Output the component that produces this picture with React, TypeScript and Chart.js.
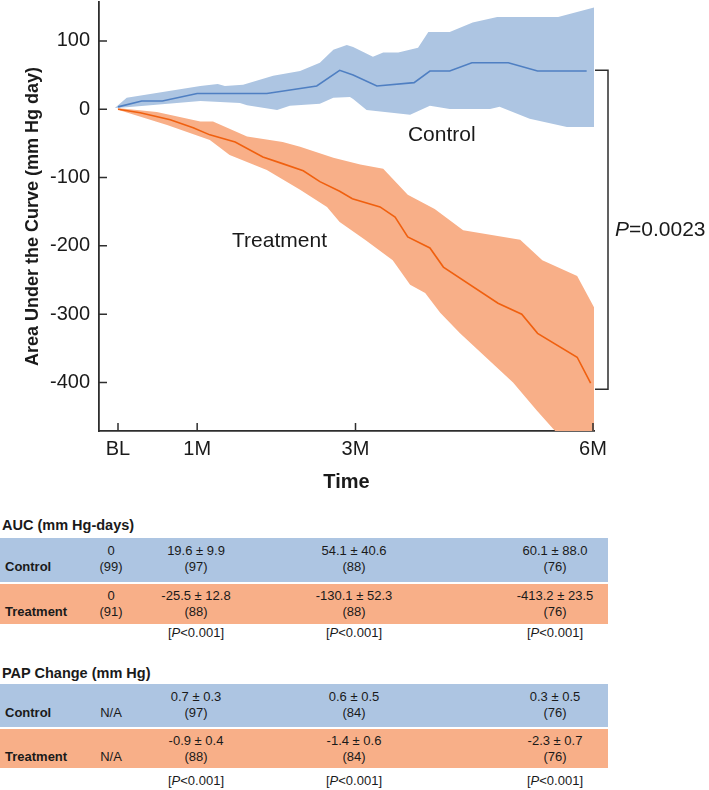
import React, { useEffect, useRef } from 'react';
import { Chart, registerables } from 'chart.js';

Chart.register(...registerables);

const FONT = "'Liberation Sans', Arial, Helvetica, sans-serif";
const INK = '#1a1a1a';
const AXIS = '#2e2e2e';
const BLUE_BAND = '#adc5e2';
const BLUE_LINE = '#4f7fc2';
const ORANGE_BAND = '#f8af88';
const ORANGE_LINE = '#f0600f';

// ---- axes ----
const xTickValues = [0, 1, 3, 6];
const xTickLabels = ['BL', '1M', '3M', '6M'];
const yTickValues = [100, 0, -100, -200, -300, -400];
const X_MIN = -0.24;
const X_MAX = 6.0126;
const Y_MIN = -471;
const Y_MAX = 157;

// ---- Control (months, AUC mm Hg day) ----
const controlMeanT = [0, 0.3, 0.56, 1.0, 1.88, 2.51, 2.8, 2.97, 3.27, 3.74, 3.94, 4.19, 4.47, 4.93, 5.3, 5.92];
const controlMean = [3.5, 12, 12, 23, 23, 34, 57, 50, 34, 39, 56, 56, 68, 68, 56, 56];
const controlUpperT = [-0.04, 0.11, 1.04, 1.26, 1.35, 1.58, 1.96, 2.3, 2.55, 2.72, 2.89, 2.97, 3.22, 3.35, 3.54, 3.79, 3.92, 4.19, 4.48, 4.79, 5.56, 6.0126];
const controlUpper = [2, 17, 34, 37, 34, 36, 49, 56, 68, 87, 94, 91, 77, 83, 83, 90, 113, 113, 127, 135, 135, 149];
const controlLowerT = [-0.04, 0.11, 1.04, 1.54, 1.63, 2.01, 2.17, 2.55, 2.72, 2.93, 2.97, 3.14, 3.69, 3.94, 4.19, 4.7, 4.82, 5.2, 5.67, 6.0126];
const controlLower = [2, 3, 12, 9, 6, -1, 5, 8, 17, 18, 15, -1, -8, 5, 0.5, 0.5, 3.5, -14, -26, -26];

// ---- Treatment ----
const treatMeanT = [0, 0.28, 0.66, 0.95, 1.16, 1.48, 1.83, 2.05, 2.34, 2.55, 2.8, 2.96, 3.31, 3.5, 3.66, 3.94, 4.11, 4.8, 5.1, 5.3, 5.8, 5.97];
const treatMean = [0, -5, -15.5, -27, -37.5, -48, -70, -78.5, -90, -106, -120, -131, -143, -158, -187, -203, -231, -284, -300, -328, -363, -401];
const treatUpperT = [-0.01, 0.49, 1.04, 1.2, 1.63, 2.08, 2.3, 2.72, 3.06, 3.35, 3.66, 4.0, 4.36, 5.08, 5.36, 5.8, 6.0126];
const treatUpper = [2, -4, -18, -18, -40, -48, -55, -71, -81, -87, -125, -146, -177, -191, -221, -244, -290];
const treatLowerT = [-0.01, 0.03, 0.62, 1.16, 1.41, 1.88, 2.3, 2.64, 2.8, 3.12, 3.47, 3.69, 3.88, 4.07, 4.32, 4.99, 5.29, 5.49, 6.0126];
const treatLower = [2, -2, -23, -45, -67, -89, -118, -143, -165, -191, -221, -257, -269, -298, -328, -400, -441, -467, -531];

// ---- bracket ----
const bracketTop = 57;
const bracketBottom = -410;

// ---- tables ----
const tableCols = [111, 196, 354, 555];
const aucControl1 = ['0', '19.6 ± 9.9', '54.1 ± 40.6', '60.1 ± 88.0'];
const aucControl2 = ['(99)', '(97)', '(88)', '(76)'];
const aucTreat1 = ['0', '-25.5 ± 12.8', '-130.1 ± 52.3', '-413.2 ± 23.5'];
const aucTreat2 = ['(91)', '(88)', '(88)', '(76)'];
const aucP = ['', '<0.001', '<0.001', '<0.001'];
const papControl1 = ['', '0.7 ± 0.3', '0.6 ± 0.5', '0.3 ± 0.5'];
const papControl2 = ['N/A', '(97)', '(84)', '(76)'];
const papTreat1 = ['', '-0.9 ± 0.4', '-1.4 ± 0.6', '-2.3 ± 0.7'];
const papTreat2 = ['N/A', '(88)', '(84)', '(76)'];
const papP = ['', '<0.001', '<0.001', '<0.001'];

const pts = (t: number[], v: number[]) => t.map((x, i) => ({ x, y: v[i] }));

const decorPlugin = {
  id: 'decor',
  afterDraw(chart: any) {
    const { ctx, chartArea, scales } = chart;
    const x = scales.x;
    const y = scales.y;
    ctx.save();
    ctx.strokeStyle = AXIS;
    ctx.lineWidth = 1.5;
    ctx.beginPath();
    yTickValues.forEach((v) => {
      const py = y.getPixelForValue(v);
      ctx.moveTo(chartArea.left, py);
      ctx.lineTo(chartArea.left + 8, py);
    });
    xTickValues.forEach((v) => {
      const px = x.getPixelForValue(v);
      ctx.moveTo(px, chartArea.bottom);
      ctx.lineTo(px, chartArea.bottom - 8);
    });
    ctx.stroke();

    // bracket
    const bx0 = chartArea.right + 1;
    const bx1 = bx0 + 13;
    const by0 = y.getPixelForValue(bracketTop);
    const by1 = y.getPixelForValue(bracketBottom);
    ctx.beginPath();
    ctx.moveTo(bx0, by0);
    ctx.lineTo(bx1, by0);
    ctx.lineTo(bx1, by1);
    ctx.lineTo(bx0, by1);
    ctx.stroke();

    // labels
    ctx.fillStyle = INK;
    ctx.textBaseline = 'middle';
    ctx.textAlign = 'center';
    ctx.font = `21px ${FONT}`;
    ctx.fillText('Control', x.getPixelForValue(4.09), y.getPixelForValue(-37.5));
    ctx.fillText('Treatment', x.getPixelForValue(2.04), y.getPixelForValue(-193));

    ctx.textAlign = 'left';
    const pxp = bx1 + 7;
    const pyp = y.getPixelForValue((bracketTop + bracketBottom) / 2);
    ctx.font = `italic 21px ${FONT}`;
    ctx.fillText('P', pxp, pyp);
    const w = ctx.measureText('P').width;
    ctx.font = `21px ${FONT}`;
    ctx.fillText('=0.0023', pxp + w, pyp);
    ctx.restore();
  },
};

function ChartView() {
  const ref = useRef<HTMLCanvasElement | null>(null);
  useEffect(() => {
    if (!ref.current) return;
    const chart = new Chart(ref.current, {
      type: 'line',
      data: {
        datasets: [
          { label: 'Control', data: pts(controlMeanT, controlMean), borderColor: BLUE_LINE, borderWidth: 1.6, pointRadius: 0, fill: false, tension: 0 },
          { label: 'Treatment', data: pts(treatMeanT, treatMean), borderColor: ORANGE_LINE, borderWidth: 1.6, pointRadius: 0, fill: false, tension: 0 },
          { label: 'Control lower', data: pts(controlLowerT, controlLower), borderWidth: 0, pointRadius: 0, fill: false, tension: 0 },
          { label: 'Control upper', data: pts(controlUpperT, controlUpper), borderWidth: 0, pointRadius: 0, fill: 2, backgroundColor: BLUE_BAND, tension: 0 },
          { label: 'Treatment lower', data: pts(treatLowerT, treatLower), borderWidth: 0, pointRadius: 0, fill: false, tension: 0 },
          { label: 'Treatment upper', data: pts(treatUpperT, treatUpper), borderWidth: 0, pointRadius: 0, fill: 4, backgroundColor: ORANGE_BAND, tension: 0 },
        ] as any,
      },
      options: {
        responsive: false,
        devicePixelRatio: 1,
        animation: false,
        layout: { padding: { top: 2, right: 709 - 594, left: 0, bottom: 0 } },
        plugins: { legend: { display: false }, tooltip: { enabled: false } },
        scales: {
          x: {
            type: 'linear',
            min: X_MIN,
            max: X_MAX,
            grid: { display: false, drawTicks: false },
            border: { display: true, color: AXIS, width: 1.8 },
            afterBuildTicks: (s: any) => { s.ticks = xTickValues.map((v) => ({ value: v })); },
            afterFit: (s: any) => { s.height = 500 - 431; s.paddingLeft = 0; s.paddingRight = 0; },
            ticks: {
              color: INK,
              padding: 6,
              maxRotation: 0,
              autoSkip: false,
              font: { family: FONT, size: 20 },
              callback: (v: any) => { const i = xTickValues.indexOf(Number(v)); return i >= 0 ? xTickLabels[i] : ''; },
            },
            title: { display: true, text: 'Time', color: INK, font: { family: FONT, size: 20, weight: 'bold' }, padding: { top: 0, bottom: 6 } },
          },
          y: {
            type: 'linear',
            min: Y_MIN,
            max: Y_MAX,
            grid: { display: false, drawTicks: false },
            border: { display: true, color: AXIS, width: 1.8 },
            afterBuildTicks: (s: any) => { s.ticks = yTickValues.map((v) => ({ value: v })); },
            afterFit: (s: any) => { s.width = 99; s.paddingTop = 0; s.paddingBottom = 0; },
            ticks: { color: INK, padding: 9, font: { family: FONT, size: 20 } },
            title: { display: true, text: 'Area Under the Curve (mm Hg day)', color: INK, font: { family: FONT, size: 18, weight: 'bold' }, padding: { top: 22, bottom: 0 } },
          },
        },
      } as any,
      plugins: [decorPlugin],
    });
    return () => chart.destroy();
  }, []);
  return <canvas ref={ref} width={709} height={500} style={{ position: 'absolute', left: 0, top: 0, display: 'block' }} />;
}

const cell = (text: string, cx: number, cy: number, key: string, italicP = false) => (
  <div
    key={key}
    style={{
      position: 'absolute',
      left: cx - 70,
      width: 140,
      top: cy - 8,
      height: 16,
      lineHeight: '16px',
      textAlign: 'center',
      whiteSpace: 'nowrap',
    }}
  >
    {italicP ? (<span>[<i>P</i>{text}]</span>) : text}
  </div>
);

function Section(props: {
  title: string; titleY: number; blueTop: number; blueH: number; orangeTop: number; orangeH: number; pY: number;
  c1: string[]; c2: string[]; t1: string[]; t2: string[]; p: string[];
}) {
  const { title, titleY, blueTop, blueH, orangeTop, orangeH, pY, c1, c2, t1, t2, p } = props;
  const rowW = 608;
  return (
    <>
      <div style={{ position: 'absolute', left: 2, top: titleY - 9, height: 18, lineHeight: '18px', fontWeight: 'bold', fontSize: 14.5, whiteSpace: 'nowrap' }}>{title}</div>
      <div style={{ position: 'absolute', left: 0, top: blueTop, width: rowW, height: blueH, background: BLUE_BAND }} />
      <div style={{ position: 'absolute', left: 0, top: orangeTop, width: rowW, height: orangeH, background: ORANGE_BAND }} />
      <div style={{ position: 'absolute', left: 5, top: blueTop + 29 - 8, lineHeight: '16px', fontWeight: 'bold' }}>Control</div>
      <div style={{ position: 'absolute', left: 5, top: orangeTop + 28 - 8, lineHeight: '16px', fontWeight: 'bold' }}>Treatment</div>
      {tableCols.map((cx, i) => cell(c1[i], cx, blueTop + 13, `c1${i}`))}
      {tableCols.map((cx, i) => cell(c2[i], cx, blueTop + 29, `c2${i}`))}
      {tableCols.map((cx, i) => cell(t1[i], cx, orangeTop + 12, `t1${i}`))}
      {tableCols.map((cx, i) => cell(t2[i], cx, orangeTop + 28, `t2${i}`))}
      {tableCols.map((cx, i) => (p[i] ? cell(p[i], cx, pY, `p${i}`, true) : null))}
    </>
  );
}

export default function App() {
  return (
    <div style={{ position: 'absolute', left: 0, top: 0, width: 709, height: 790, background: '#fff', fontFamily: FONT, fontSize: 13, color: INK }}>
      <ChartView />
      <Section title="AUC (mm Hg-days)" titleY={525} blueTop={538} blueH={44} orangeTop={583.5} orangeH={40} pY={633}
        c1={aucControl1} c2={aucControl2} t1={aucTreat1} t2={aucTreat2} p={aucP} />
      <Section title="PAP Change (mm Hg)" titleY={673} blueTop={684} blueH={43} orangeTop={729} orangeH={39} pY={781}
        c1={papControl1} c2={papControl2} t1={papTreat1} t2={papTreat2} p={papP} />
    </div>
  );
}
